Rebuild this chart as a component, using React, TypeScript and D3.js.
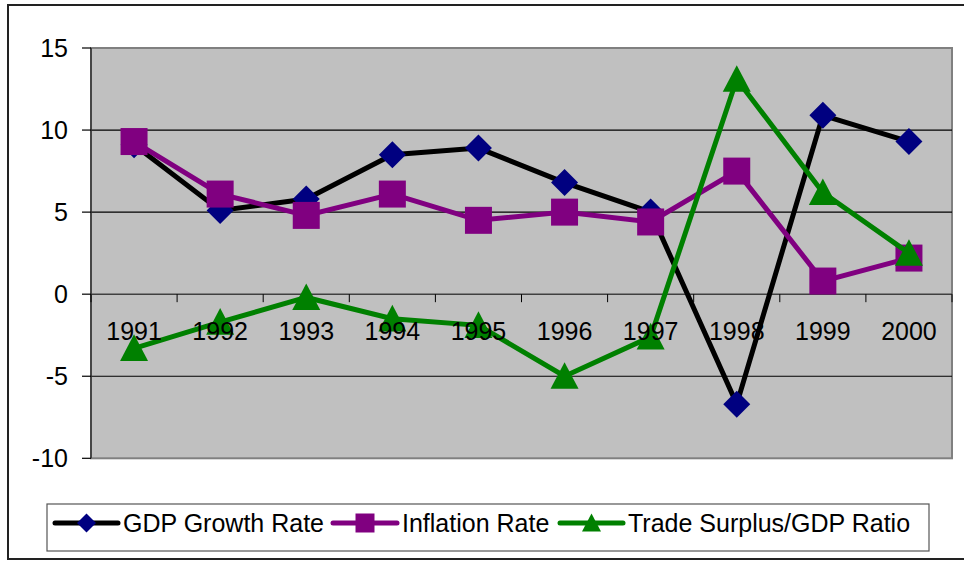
import React from "react";
import * as d3 from "d3";

const years = ["1991", "1992", "1993", "1994", "1995", "1996", "1997", "1998", "1999", "2000"];
const gdpGrowth = [9.1, 5.1, 5.8, 8.5, 8.9, 6.8, 5.0, -6.7, 10.9, 9.3];
const inflation = [9.3, 6.1, 4.8, 6.1, 4.5, 5.0, 4.4, 7.5, 0.8, 2.2];
const tradeSurplus = [-3.3, -1.7, -0.2, -1.5, -1.9, -5.0, -2.6, 13.1, 6.2, 2.5];
const yTicks = [-10, -5, 0, 5, 10, 15];
const seriesNames = ["GDP Growth Rate", "Inflation Rate", "Trade Surplus/GDP Ratio"];

const FONT = "'Liberation Sans', Arial, sans-serif";

type Marker = "diamond" | "square" | "triangle";

function markerPath(kind: Marker, size: number): string {
  const h = size / 2;
  if (kind === "diamond") return `M0,${-h}L${h},0L0,${h}L${-h},0Z`;
  if (kind === "square") return `M${-h},${-h}H${h}V${h}H${-h}Z`;
  return `M0,${-h}L${h},${h * 0.9}L${-h},${h * 0.9}Z`;
}

export default function App() {
  const W = 964;
  const H = 561;
  const plotL = 91;
  const plotR = 952;
  const plotT = 48;
  const plotB = 458.3;

  const x = d3.scaleBand<string>().domain(years).range([plotL, plotR]);
  const y = d3.scaleLinear().domain([-10, 15]).range([plotB, plotT]);
  const cx = (yr: string) => (x(yr) as number) + x.bandwidth() / 2;

  const line = d3
    .line<number>()
    .x((_, i) => cx(years[i]))
    .y((d) => y(d));

  const series = [
    { name: seriesNames[0], data: gdpGrowth, line: "#000000", fill: "#000080", marker: "diamond" as Marker, size: 27 },
    { name: seriesNames[1], data: inflation, line: "#800080", fill: "#800080", marker: "square" as Marker, size: 27 },
    { name: seriesNames[2], data: tradeSurplus, line: "#008000", fill: "#008000", marker: "triangle" as Marker, size: 28 },
  ];

  const bounds = [...years.map((yr) => x(yr) as number), plotR];

  const legendItems = [
    { lx1: 55, lx2: 118, tx: 123 },
    { lx1: 333, lx2: 397, tx: 402 },
    { lx1: 560, lx2: 623, tx: 628 },
  ];
  const legendY = 523;
  const FS = 25;

  return (
    <svg width={W} height={H} style={{ position: "absolute", left: 0, top: 0 }} fontFamily={FONT}>
      <rect x={0} y={0} width={W} height={H} fill="#ffffff" />
      {/* outer chart frame */}
      <rect x={8} y={5} width={1000} height={554} fill="#ffffff" stroke="#222" strokeWidth={2} />
      {/* plot area */}
      <rect x={plotL} y={plotT} width={plotR - plotL} height={plotB - plotT} fill="#c0c0c0" stroke="#808080" strokeWidth={2} />
      {/* gridlines */}
      {yTicks
        .filter((t) => t !== 0 && t !== -10 && t !== 15)
        .map((t) => (
          <line key={t} x1={plotL} x2={plotR} y1={y(t)} y2={y(t)} stroke="#000" strokeWidth={1.2} />
        ))}
      {/* y axis */}
      <line x1={plotL} x2={plotL} y1={plotT} y2={plotB} stroke="#333" strokeWidth={1.5} />
      {yTicks.map((t) => (
        <g key={t}>
          <line x1={plotL - 9} x2={plotL} y1={y(t)} y2={y(t)} stroke="#000" strokeWidth={1.2} />
          <text x={68} y={y(t)} dy="0.36em" textAnchor="end" fontSize={FS} fill="#000">
            {t}
          </text>
        </g>
      ))}
      {/* x axis at zero */}
      <line x1={plotL} x2={plotR} y1={y(0)} y2={y(0)} stroke="#404040" strokeWidth={1.5} />
      {bounds.map((b, i) => (
        <line key={i} x1={b} x2={b} y1={y(0)} y2={y(0) + 8} stroke="#000" strokeWidth={1} />
      ))}
      {/* series */}
      {series.map((s) => (
        <g key={s.name}>
          <path d={line(s.data) as string} fill="none" stroke={s.line} strokeWidth={5} strokeLinejoin="miter" />
          {s.data.map((v, i) => (
            <path key={i} d={markerPath(s.marker, s.size)} transform={`translate(${cx(years[i])},${y(v)})`} fill={s.fill} />
          ))}
        </g>
      ))}
      {/* category labels */}
      {years.map((yr) => (
        <text key={yr} x={cx(yr)} y={y(0) + 37} dy="0.36em" textAnchor="middle" fontSize={FS} fill="#000">
          {yr}
        </text>
      ))}
      {/* legend */}
      <rect x={47} y={504} width={882} height={47} fill="#ffffff" stroke="#555" strokeWidth={1.2} />
      {series.map((s, i) => {
        const it = legendItems[i];
        const mx = (it.lx1 + it.lx2) / 2;
        return (
          <g key={s.name}>
            <line x1={it.lx1} x2={it.lx2} y1={legendY} y2={legendY} stroke={s.line} strokeWidth={5} strokeLinecap="round" />
            <path d={markerPath(s.marker, 19)} transform={`translate(${mx},${legendY})`} fill={s.fill} />
            <text x={it.tx} y={legendY} dy="0.36em" fontSize={FS} fill="#000">
              {s.name}
            </text>
          </g>
        );
      })}
    </svg>
  );
}
